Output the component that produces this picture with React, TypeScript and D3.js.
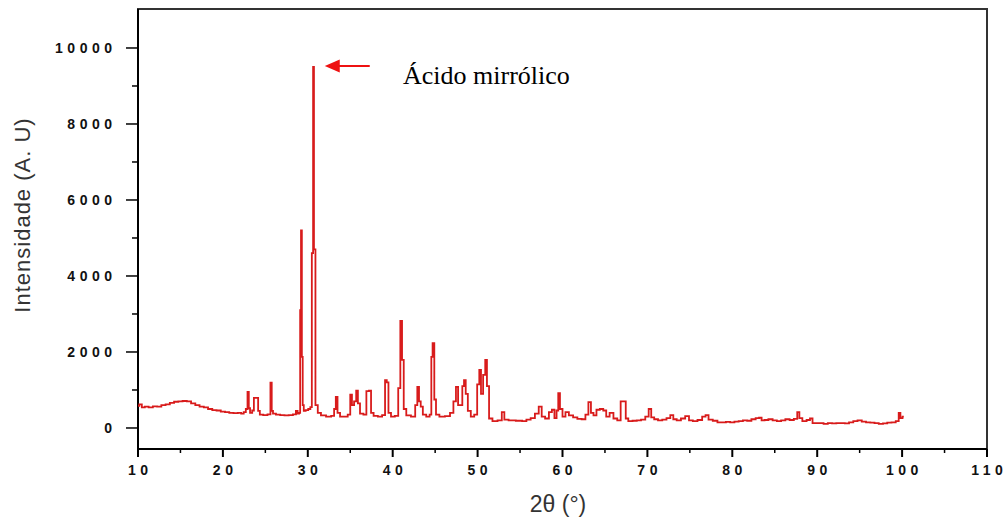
import React from "react";
import * as d3 from "d3";

// 2θ (degrees) and intensity (A.U)
const angles: number[] = [
  10, 10.3, 10.6, 11, 11.5, 12, 12.5, 13, 13.5, 14, 14.5, 15, 15.5, 16, 16.5, 17, 17.5, 18, 18.5, 19, 19.5, 20,
  20.5, 21, 21.5, 22, 22.3, 22.6, 22.8, 23.0, 23.1, 23.3, 23.6, 23.7, 24.1, 24.2, 24.5, 25, 25.5, 25.7, 25.8, 26,
  26.5, 27, 27.5, 28, 28.5, 28.7, 28.9, 29.05, 29.15, 29.25, 29.35, 29.45, 29.6, 29.9, 30.2, 30.4, 30.55, 30.7,
  30.75, 31.05, 31.3, 31.8, 32.5, 33.0, 33.2, 33.4, 33.6, 34, 34.5, 34.9, 35.1, 35.3, 35.6, 35.8, 36.0, 36.3, 36.8,
  37.0, 37.4, 37.5, 38, 38.5, 39, 39.2, 39.4, 39.6, 40, 40.5, 40.8, 41.0, 41.2, 41.4, 41.8, 42.5, 42.8, 43.0, 43.2,
  43.4, 43.7, 44.2, 44.5, 44.6, 44.8, 45.0, 45.2, 45.8, 46.5, 47.0, 47.3, 47.6, 47.8, 48.1, 48.3, 48.5, 48.7, 49.0,
  49.4, 49.8, 50.1, 50.3, 50.5, 50.8, 51.0, 51.2, 51.5, 52, 52.7, 53.0, 53.3, 54, 55, 55.5, 56, 56.5, 57.0, 57.4,
  57.7, 58.2, 58.6, 58.9, 59.2, 59.4, 59.6, 59.8, 60.2, 60.5, 61, 61.5, 62, 62.5, 62.9, 63.2, 63.5, 63.8, 64.2,
  64.6, 65.0, 65.3, 65.8, 66.2, 66.7, 67.0, 67.4, 67.5, 68, 68.5, 69, 69.5, 70.0, 70.3, 70.6, 71, 71.5, 72, 72.5,
  72.9, 73.2, 73.7, 74.2, 74.7, 75.1, 75.6, 76.2, 76.7, 77.0, 77.4, 78, 78.5, 79, 79.5, 80, 80.5, 81, 81.5, 82,
  82.5, 83.0, 83.3, 83.6, 84, 84.5, 85, 85.5, 86, 86.5, 87, 87.5, 87.8, 88.0, 88.5, 89, 89.3, 89.6, 90, 90.5, 91,
  91.5, 92, 92.5, 93, 93.5, 94, 94.5, 95, 95.5, 96, 96.5, 97, 97.5, 98, 98.5, 99, 99.5, 99.7, 99.9, 100.2,
];
const intensity: number[] = [
  580, 620, 540, 560, 540, 570, 560, 600, 620, 660, 690, 700, 710, 700, 650, 600, 560, 540, 500, 470, 460, 430,
  420, 400, 390, 400, 380, 420, 500, 950, 520, 400, 460, 790, 790, 450, 350, 340, 360, 1190, 450, 380,
  350, 340, 330, 340, 360, 450, 380, 400, 3100, 5200, 1870, 600, 450, 470, 500, 550, 4600, 9500,
  4700, 600, 400, 330, 300, 320, 500, 820, 400, 300, 300, 350, 880, 600, 700, 980, 650, 380, 350,
  970, 980, 400, 320, 300, 340, 1260, 1200, 400, 300, 320, 1050, 2820, 1790, 500, 330, 300, 600, 1080, 700,
  560, 350, 300, 350, 1870, 2230, 750, 350, 300, 310, 400, 700, 1080, 600, 600, 1100, 1260, 900, 450,
  300, 350, 1150, 1530, 900, 1400, 1790, 1100, 250, 180, 200, 420, 220, 200, 190, 180, 220, 260, 380, 560,
  300, 250, 420, 480, 260, 460, 920, 500, 300, 420, 330, 280, 240, 230, 350, 680, 400, 330, 480,
  500, 460, 300, 400, 250, 200, 700, 700, 250, 180, 190, 200, 220, 300, 500, 280, 230, 200, 220, 260,
  340, 230, 200, 250, 310, 200, 180, 210, 300, 340, 220, 190, 150, 150, 160, 150, 170, 180, 200, 190,
  230, 260, 270, 200, 210, 230, 200, 180, 200, 230, 210, 240, 420, 260, 180, 210, 250, 130, 130, 130, 110,
  130, 120, 130, 130, 120, 150, 180, 200, 170, 150, 140, 130, 110, 120, 140, 150, 180, 400, 260, 300,
];

const xMajorTicks: number[] = [10, 20, 30, 40, 50, 60, 70, 80, 90, 100, 110];
const xMinorTicks: number[] = [15, 25, 35, 45, 55, 65, 75, 85, 95, 105];
const yMajorTicks: number[] = [0, 2000, 4000, 6000, 8000, 10000];
const yMinorTicks: number[] = [1000, 3000, 5000, 7000, 9000];

const annotationLabel = "Ácido mirrólico";
const annotationPeakAngle = 30.7;
const annotationPeakValue = 9500;

const W = 1006;
const H = 520;
const plot = { left: 138, right: 987, top: 9, bottom: 449 };

export default function App() {
  const x = d3.scaleLinear().domain([10, 110]).range([plot.left, plot.right]);
  const y = d3.scaleLinear().domain([-553, 11026]).range([plot.bottom, plot.top]);

  const pts: [number, number][] = angles.map((a, i) => [a, intensity[i]]);
  const line = d3
    .line<[number, number]>()
    .x((d) => x(d[0]))
    .y((d) => y(d[1]))
    .curve(d3.curveStep);

  const tickFont = {
    fontFamily: "'Liberation Sans', Arial, sans-serif",
    fontSize: 14,
    fontWeight: 700 as const,
    letterSpacing: "4.5px",
    fill: "#111",
  };

  const tipX = x(annotationPeakAngle) + 11;
  const tipY = y(annotationPeakValue) - 1;

  return (
    <svg
      width={W}
      height={H}
      style={{ position: "absolute", left: 0, top: 0, background: "#fff" }}
    >
      {/* frame */}
      <rect
        x={plot.left}
        y={plot.top}
        width={plot.right - plot.left}
        height={plot.bottom - plot.top}
        fill="none"
        stroke="#333"
        strokeWidth={2}
      />
      <line x1={plot.left} x2={plot.left} y1={plot.top} y2={plot.bottom} stroke="#000" strokeWidth={2} />
      <line x1={plot.left} x2={plot.right} y1={plot.bottom} y2={plot.bottom} stroke="#000" strokeWidth={2} />

      {/* data */}
      <path d={line(pts) || ""} fill="none" stroke="#d81b1b" strokeWidth={1.8} strokeLinejoin="miter" />

      {/* x ticks */}
      {xMajorTicks.map((t) => (
        <g key={"xm" + t}>
          <line x1={x(t)} x2={x(t)} y1={plot.bottom} y2={plot.bottom + 8} stroke="#000" strokeWidth={2} />
          <text x={x(t) + 2.25} y={475} textAnchor="middle" {...tickFont}>
            {String(t)}
          </text>
        </g>
      ))}
      {xMinorTicks.map((t) => (
        <line key={"xn" + t} x1={x(t)} x2={x(t)} y1={plot.bottom} y2={plot.bottom + 4} stroke="#000" strokeWidth={1.5} />
      ))}

      {/* y ticks */}
      {yMajorTicks.map((t) => (
        <g key={"ym" + t}>
          <line x1={plot.left - 12} x2={plot.left} y1={y(t)} y2={y(t)} stroke="#000" strokeWidth={1.5} />
          <text x={116.5} y={y(t) + 5} textAnchor="end" {...tickFont}>
            {String(t)}
          </text>
        </g>
      ))}
      {yMinorTicks.map((t) => (
        <line key={"yn" + t} x1={plot.left - 6} x2={plot.left} y1={y(t)} y2={y(t)} stroke="#000" strokeWidth={1.5} />
      ))}

      {/* axis titles */}
      <text
        transform={`translate(30, ${(plot.top + plot.bottom) / 2 - 14}) rotate(-90)`}
        textAnchor="middle"
        fontFamily="'Liberation Sans', Arial, sans-serif"
        fontSize={22}
        letterSpacing="1px"
        fill="#333"
      >
        Intensidade (A. U)
      </text>
      <text
        x={558}
        y={512}
        textAnchor="middle"
        fontFamily="'Liberation Sans', Arial, sans-serif"
        fontSize={23}
        fill="#333"
      >
        2θ (°)
      </text>

      {/* annotation */}
      <line x1={tipX + 12} x2={tipX + 45} y1={tipY} y2={tipY} stroke="#ee1111" strokeWidth={2} />
      <polygon
        points={`${tipX},${tipY} ${tipX + 15},${tipY - 6.5} ${tipX + 15},${tipY + 6.5}`}
        fill="#ee1111"
      />
      <text
        x={403}
        y={84}
        fontFamily="'Liberation Serif', 'Times New Roman', serif"
        fontSize={26}
        fill="#000"
      >
        {annotationLabel}
      </text>
    </svg>
  );
}
